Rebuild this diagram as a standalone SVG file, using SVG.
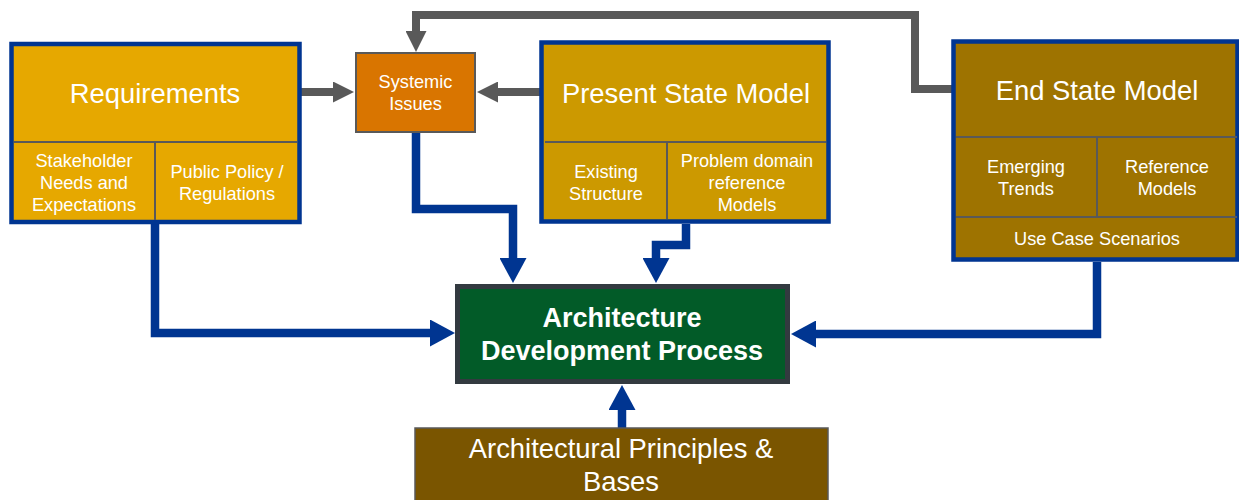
<svg xmlns="http://www.w3.org/2000/svg" width="1239" height="500" viewBox="0 0 1239 500">
<style>
.box{stroke:#003591;stroke-width:4.5}
.div{stroke:#595959;stroke-width:2;fill:none}
.t{font-family:"Liberation Sans",Arial,sans-serif;fill:#fff;text-anchor:middle}
.big{font-size:27.4px}
.sm{font-size:18.2px}
.bold{font-weight:bold;font-size:27px}
.blue{stroke:#003591;stroke-width:8.5;fill:none}
.gray{stroke:#595959;stroke-width:8;fill:none}
</style>
<defs>
<marker id="ab" viewBox="0 0 25 27" refX="1" refY="13.5" markerWidth="25" markerHeight="27" markerUnits="userSpaceOnUse" orient="auto">
<path d="M0,0 L25,13.5 L0,27 z" fill="#003591"/>
</marker>
<marker id="ag" viewBox="0 0 21 21" refX="1" refY="10.5" markerWidth="21" markerHeight="21" markerUnits="userSpaceOnUse" orient="auto">
<path d="M0,0 L21,10.5 L0,21 z" fill="#595959"/>
</marker>
</defs>
<g id="connectors">
<path class="blue" d="M155,224 V333 H431" marker-end="url(#ab)"/>
<path class="blue" d="M416,132 V209 H513 V259" marker-end="url(#ab)"/>
<path class="blue" d="M686,224 V245 H656 V259" marker-end="url(#ab)"/>
<path class="blue" d="M1097,262 V334 H815" marker-end="url(#ab)"/>
<path class="blue" d="M622,428 V409" marker-end="url(#ab)"/>
<path class="gray" d="M301,92 H334" marker-end="url(#ag)"/>
<path class="gray" d="M541,92 H497" marker-end="url(#ag)"/>
<path class="gray" d="M956,89 H915 V15 H416 V32" marker-end="url(#ag)"/>
</g>
<g id="requirements">
<rect class="box" x="11.5" y="44" width="288" height="178" fill="#E6A800"/>
<line class="div" x1="14" y1="142" x2="297" y2="142"/>
<line class="div" x1="155" y1="142" x2="155" y2="220"/>
<text class="t big" x="155" y="103">Requirements</text>
<text class="t sm" x="84" y="167">Stakeholder</text>
<text class="t sm" x="84" y="189">Needs and</text>
<text class="t sm" x="84" y="211">Expectations</text>
<text class="t sm" x="227" y="178">Public Policy /</text>
<text class="t sm" x="227" y="200">Regulations</text>
</g>
<g id="systemic">
<rect x="356" y="53" width="119" height="79" fill="#D97500" stroke="#595959" stroke-width="2"/>
<text class="t sm" x="415.5" y="87.5">Systemic</text>
<text class="t sm" x="415.5" y="110">Issues</text>
</g>
<g id="present">
<rect class="box" x="541.5" y="42.5" width="287" height="179" fill="#CC9900"/>
<line class="div" x1="545" y1="142" x2="826" y2="142"/>
<line class="div" x1="667" y1="142" x2="667" y2="219"/>
<text class="t big" x="686" y="103">Present State Model</text>
<text class="t sm" x="606" y="178">Existing</text>
<text class="t sm" x="606" y="200">Structure</text>
<text class="t sm" x="747" y="167">Problem domain</text>
<text class="t sm" x="747" y="189">reference</text>
<text class="t sm" x="747" y="211">Models</text>
</g>
<g id="endstate">
<rect class="box" x="953.5" y="41.5" width="284" height="218" fill="#9E7300"/>
<line class="div" x1="956" y1="137" x2="1237" y2="137"/>
<line class="div" x1="956" y1="217" x2="1237" y2="217"/>
<line class="div" x1="1097" y1="137" x2="1097" y2="217"/>
<text class="t big" x="1097" y="100">End State Model</text>
<text class="t sm" x="1026" y="173">Emerging</text>
<text class="t sm" x="1026" y="195">Trends</text>
<text class="t sm" x="1167" y="173">Reference</text>
<text class="t sm" x="1167" y="195">Models</text>
<text class="t sm" x="1097" y="245">Use Case Scenarios</text>
</g>
<g id="adp">
<rect x="457.5" y="286.5" width="330" height="95" fill="#025B28" stroke="#333A40" stroke-width="5"/>
<text class="t bold" x="622" y="327">Architecture</text>
<text class="t bold" x="622" y="360">Development Process</text>
</g>
<g id="principles">
<rect x="415" y="428" width="413" height="80" fill="#7A5500" stroke="#595959" stroke-width="1.5"/>
<text class="t big" x="621" y="458">Architectural Principles &amp;</text>
<text class="t big" x="621" y="491">Bases</text>
</g>
</svg>
